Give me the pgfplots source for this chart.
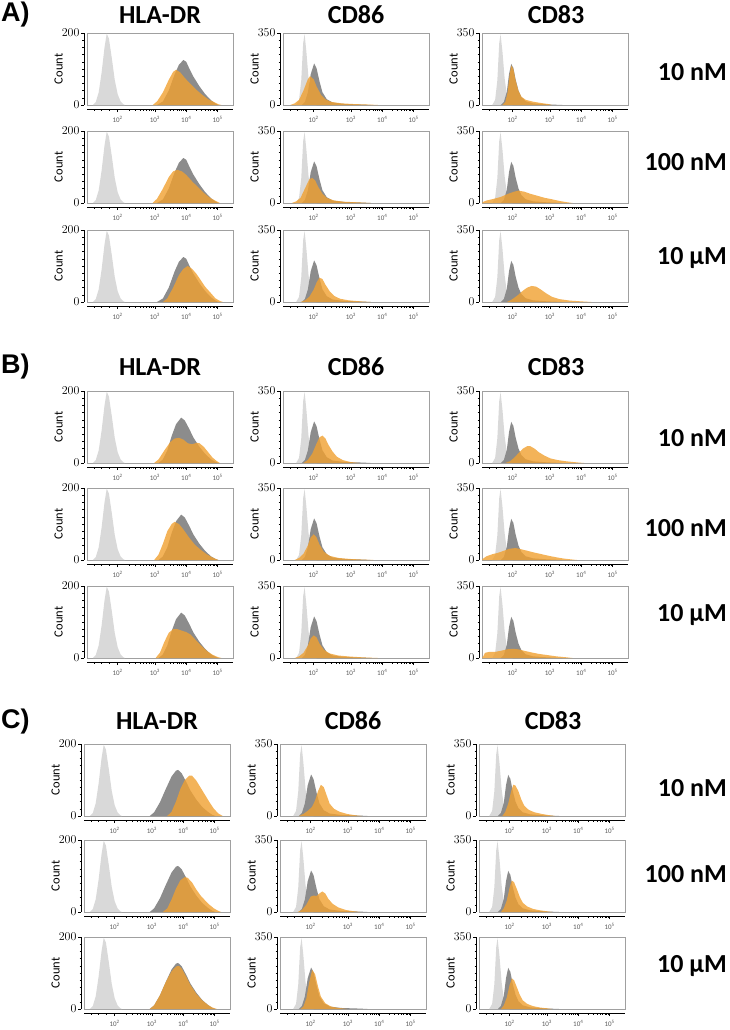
\documentclass[border=0pt]{standalone}
\usepackage{pgfplots}
\pgfplotsset{compat=1.18}
\usepackage{pgfplotstable}
\usepackage{fontspec}
\setmainfont{Carlito}
\newfontfamily\secf{Liberation Sans}
\definecolor{isoc}{HTML}{D9D9D9}
\definecolor{ctrlc}{HTML}{8C8C8C}
\definecolor{orc}{HTML}{F0A030}
\definecolor{boxc}{HTML}{A0A0A0}

% isotype controls (light grey)
\pgfplotstableread[row sep=\\]{x y\\0.04 0\\0.06 8\\0.08 35\\0.10 90\\0.12 160\\0.135 198\\0.15 185\\0.17 130\\0.19 70\\0.21 30\\0.23 10\\0.25 2\\0.26 0\\}\isoH
\pgfplotstableread[row sep=\\]{x y\\0.09 0\\0.11 25\\0.125 120\\0.138 300\\0.148 345\\0.16 260\\0.175 130\\0.19 50\\0.21 12\\0.23 0\\}\isoD
\pgfplotstableread[row sep=\\]{x y\\0.07 0\\0.09 25\\0.105 120\\0.118 300\\0.127 345\\0.14 260\\0.155 130\\0.17 50\\0.19 12\\0.21 0\\}\isoC
% untreated controls (dark grey)
\pgfplotstableread[row sep=\\]{x y\\0.48 0\\0.52 10\\0.56 40\\0.60 85\\0.63 112\\0.66 125\\0.68 120\\0.70 102\\0.73 78\\0.77 52\\0.81 30\\0.85 13\\0.88 4\\0.90 0\\}\ctrlAH
\pgfplotstableread[row sep=\\]{x y\\0.49 0\\0.52 10\\0.55 35\\0.58 75\\0.61 108\\0.645 126\\0.67 118\\0.70 95\\0.73 70\\0.77 45\\0.81 25\\0.85 10\\0.88 3\\0.90 0\\}\ctrlBH
\pgfplotstableread[row sep=\\]{x y\\0.45 0\\0.48 10\\0.52 38\\0.56 75\\0.60 110\\0.63 126\\0.645 128\\0.67 118\\0.70 95\\0.73 70\\0.77 45\\0.81 25\\0.85 11\\0.88 3\\0.90 0\\}\ctrlCH
\pgfplotstableread[row sep=\\]{x y\\0.13 0\\0.15 15\\0.17 60\\0.19 150\\0.213 202\\0.23 178\\0.25 115\\0.27 62\\0.30 28\\0.34 12\\0.42 5\\0.55 2\\0.60 0\\}\ctrlD
\pgfplotstableread[row sep=\\]{x y\\0.13 0\\0.15 15\\0.17 65\\0.185 150\\0.20 200\\0.215 180\\0.23 125\\0.25 70\\0.27 38\\0.30 18\\0.35 8\\0.45 3\\0.55 0\\}\ctrlC
% treated (orange), section A
\pgfplotstableread[row sep=\\]{x y\\0.45 0\\0.48 10\\0.52 35\\0.56 70\\0.59 92\\0.61 98\\0.64 90\\0.67 75\\0.71 58\\0.75 42\\0.79 28\\0.83 16\\0.87 8\\0.90 2\\0.92 0\\}\oAHa
\pgfplotstableread[row sep=\\]{x y\\0.45 0\\0.48 12\\0.52 40\\0.56 72\\0.59 88\\0.62 92\\0.65 88\\0.68 78\\0.72 60\\0.76 44\\0.80 28\\0.84 15\\0.88 6\\0.91 0\\}\oAHb
\pgfplotstableread[row sep=\\]{x y\\0.52 0\\0.55 10\\0.59 40\\0.63 75\\0.66 92\\0.69 100\\0.72 92\\0.75 78\\0.78 60\\0.81 42\\0.85 24\\0.88 10\\0.91 3\\0.93 0\\}\oAHc
\pgfplotstableread[row sep=\\]{x y\\0.05 0\\0.08 8\\0.11 25\\0.14 70\\0.17 125\\0.185 140\\0.21 125\\0.23 90\\0.26 50\\0.29 28\\0.33 15\\0.40 8\\0.50 4\\0.60 2\\0.65 0\\}\oADa
\pgfplotstableread[row sep=\\]{x y\\0.06 0\\0.09 8\\0.12 25\\0.15 70\\0.18 115\\0.20 122\\0.22 110\\0.24 80\\0.27 45\\0.30 25\\0.35 12\\0.42 6\\0.52 3\\0.60 0\\}\oADb
\pgfplotstableread[row sep=\\]{x y\\0.12 0\\0.15 8\\0.18 25\\0.21 60\\0.23 95\\0.25 118\\0.27 112\\0.29 85\\0.32 52\\0.35 30\\0.39 16\\0.45 8\\0.53 3\\0.60 0\\}\oADc
\pgfplotstableread[row sep=\\]{x y\\0.14 0\\0.16 15\\0.175 60\\0.19 150\\0.20 192\\0.215 175\\0.23 120\\0.25 68\\0.27 40\\0.30 25\\0.35 16\\0.40 10\\0.45 5\\0.48 0\\}\oACa
\pgfplotstableread[row sep=\\]{x y\\0.0 0\\0.01 6\\0.03 12\\0.08 20\\0.13 30\\0.18 45\\0.22 55\\0.25 60\\0.29 55\\0.33 45\\0.38 35\\0.43 25\\0.48 18\\0.53 10\\0.58 4\\0.62 0\\}\oACb
\pgfplotstableread[row sep=\\]{x y\\0.17 0\\0.20 10\\0.24 30\\0.28 55\\0.31 70\\0.34 78\\0.37 75\\0.40 62\\0.44 42\\0.48 25\\0.53 14\\0.60 7\\0.68 3\\0.75 0\\}\oACc
% section B
\pgfplotstableread[row sep=\\]{x y\\0.46 0\\0.49 10\\0.53 35\\0.57 58\\0.60 68\\0.63 70\\0.66 65\\0.69 55\\0.72 52\\0.75 56\\0.77 55\\0.80 45\\0.83 30\\0.86 15\\0.89 5\\0.91 0\\}\oBHa
\pgfplotstableread[row sep=\\]{x y\\0.46 0\\0.49 15\\0.52 45\\0.55 80\\0.58 100\\0.60 106\\0.63 100\\0.66 85\\0.70 62\\0.74 42\\0.78 28\\0.82 16\\0.86 7\\0.90 0\\}\oBHb
\pgfplotstableread[row sep=\\]{x y\\0.47 0\\0.50 15\\0.53 45\\0.56 70\\0.59 80\\0.62 80\\0.65 76\\0.68 72\\0.71 65\\0.74 52\\0.78 35\\0.82 20\\0.86 9\\0.90 2\\0.92 0\\}\oBHc
\pgfplotstableread[row sep=\\]{x y\\0.14 0\\0.17 15\\0.20 45\\0.23 95\\0.25 125\\0.27 133\\0.29 120\\0.31 90\\0.34 55\\0.37 30\\0.41 14\\0.46 5\\0.52 0\\}\oBDa
\pgfplotstableread[row sep=\\]{x y\\0.08 0\\0.11 10\\0.14 30\\0.17 70\\0.19 110\\0.21 125\\0.23 110\\0.25 75\\0.28 40\\0.32 20\\0.38 10\\0.46 5\\0.55 2\\0.62 0\\}\oBDb
\pgfplotstableread[row sep=\\]{x y\\0.08 0\\0.11 8\\0.14 25\\0.17 60\\0.19 95\\0.21 110\\0.23 100\\0.25 70\\0.28 40\\0.32 22\\0.38 12\\0.46 7\\0.55 3\\0.65 0\\}\oBDc
\pgfplotstableread[row sep=\\]{x y\\0.16 0\\0.19 8\\0.22 25\\0.25 48\\0.28 70\\0.31 82\\0.33 82\\0.36 70\\0.39 52\\0.43 35\\0.47 22\\0.52 14\\0.58 8\\0.65 3\\0.70 0\\}\oBCa
\pgfplotstableread[row sep=\\]{x y\\0.0 0\\0.01 8\\0.03 18\\0.07 28\\0.11 35\\0.15 45\\0.19 55\\0.23 58\\0.27 52\\0.31 45\\0.36 36\\0.41 28\\0.46 20\\0.51 13\\0.56 7\\0.61 3\\0.65 0\\}\oBCb
\pgfplotstableread[row sep=\\]{x y\\0.0 0\\0.01 10\\0.02 25\\0.05 30\\0.09 30\\0.13 35\\0.17 42\\0.21 45\\0.25 42\\0.29 35\\0.34 27\\0.39 20\\0.45 14\\0.51 8\\0.57 4\\0.62 0\\}\oBCc
% section C
\pgfplotstableread[row sep=\\]{x y\\0.57 0\\0.60 12\\0.63 40\\0.66 75\\0.69 100\\0.72 112\\0.74 112\\0.77 98\\0.80 78\\0.83 58\\0.86 38\\0.89 20\\0.92 7\\0.95 0\\}\oCHa
\pgfplotstableread[row sep=\\]{x y\\0.54 0\\0.57 10\\0.60 35\\0.63 65\\0.66 88\\0.69 97\\0.71 95\\0.74 82\\0.77 62\\0.80 45\\0.83 32\\0.86 20\\0.89 10\\0.92 3\\0.94 0\\}\oCHb
\pgfplotstableread[row sep=\\]{x y\\0.45 0\\0.48 10\\0.52 38\\0.56 75\\0.60 105\\0.63 118\\0.65 120\\0.67 112\\0.70 90\\0.73 66\\0.77 42\\0.81 24\\0.85 11\\0.88 4\\0.91 0\\}\oCHc
\pgfplotstableread[row sep=\\]{x y\\0.13 0\\0.16 10\\0.19 25\\0.22 45\\0.24 75\\0.26 120\\0.28 152\\0.30 140\\0.32 100\\0.34 60\\0.37 35\\0.41 20\\0.46 10\\0.52 3\\0.56 0\\}\oCDa
\pgfplotstableread[row sep=\\]{x y\\0.12 0\\0.15 10\\0.18 35\\0.21 75\\0.23 80\\0.25 78\\0.27 90\\0.29 100\\0.31 90\\0.33 65\\0.36 40\\0.40 22\\0.45 10\\0.50 4\\0.55 0\\}\oCDb
\pgfplotstableread[row sep=\\]{x y\\0.14 0\\0.16 12\\0.18 50\\0.20 130\\0.22 190\\0.24 170\\0.26 110\\0.28 60\\0.31 28\\0.35 12\\0.40 5\\0.46 0\\}\oCDc
\pgfplotstableread[row sep=\\]{x y\\0.16 0\\0.18 20\\0.20 60\\0.22 120\\0.235 152\\0.25 148\\0.27 120\\0.29 80\\0.31 50\\0.34 30\\0.38 18\\0.43 10\\0.48 4\\0.52 0\\}\oCCa
\pgfplotstableread[row sep=\\]{x y\\0.15 0\\0.17 18\\0.19 55\\0.21 120\\0.225 153\\0.24 145\\0.26 110\\0.28 72\\0.30 45\\0.33 27\\0.37 15\\0.42 8\\0.47 3\\0.50 0\\}\oCCb
\pgfplotstableread[row sep=\\]{x y\\0.15 0\\0.17 18\\0.19 55\\0.21 118\\0.225 149\\0.24 140\\0.26 105\\0.28 68\\0.30 42\\0.33 25\\0.37 14\\0.42 7\\0.47 3\\0.50 0\\}\oCCc

\pgfplotsset{
 panel/.style={scale only axis, width=146pt, height=72pt, anchor=north west,
  xmin=0, xmax=1, ymin=0,
  axis line style={boxc, line width=0.6pt},
  tick align=outside, xtick pos=left, ytick pos=left,
  xtick={0.21,0.465,0.68,0.895},
  xticklabels={10\textsuperscript{2},10\textsuperscript{3},10\textsuperscript{4},10\textsuperscript{5}},
  minor xtick={0.05,0.10,0.15,0.287,0.332,0.363,0.388,0.408,0.425,0.440,0.453,0.530,0.568,0.594,0.615,0.632,0.647,0.659,0.670,0.745,0.783,0.809,0.830,0.847,0.862,0.874,0.885},
  major tick length=3pt, minor tick length=1.5pt,
  xtick style={black, yshift=-4pt, line width=0.5pt},
  ytick style={black, xshift=-3pt, line width=0.4pt},
  minor y tick num=9,
  xticklabel style={font=\fontsize{7}{7}\selectfont, text=black!65, yshift=-5pt},
  yticklabel style={font=\fontsize{12}{12}\selectfont, xshift=-1pt},
  ylabel={Count},
  ylabel style={font=\fontsize{12.5}{12.5}\selectfont, at={(rel axis cs:-0.195,0.5)}, anchor=center},
  after end axis/.code={
   \draw[black, line width=0.9pt] ([yshift=-4pt]rel axis cs:0,0) -- ([yshift=-4pt]rel axis cs:1,0);
   \draw[black, line width=0.7pt] ([xshift=-3pt]rel axis cs:0,0) -- ([xshift=-3pt]rel axis cs:0,1);
  },
 },
 iso/.style={draw=none, fill=isoc},
 ctrl/.style={draw=none, fill=ctrlc},
 ora/.style={draw=none, fill=orc, fill opacity=0.8},
}

\newcommand{\panel}[6]{%
\begin{axis}[panel, at={(#1pt,-#2pt)}, ymax=#3, ytick={0,#3}]
\addplot[iso] table {#4} \closedcycle;
\addplot[ctrl] table {#5} \closedcycle;
\addplot[ora] table {#6} \closedcycle;
\end{axis}}

\newcommand{\tit}{\bfseries\fontsize{26}{28}\selectfont}
\newcommand{\sect}{\secf\bfseries\fontsize{27}{29}\selectfont}

\begin{document}
\begin{tikzpicture}
\useasboundingbox (0,0) rectangle (729pt,-1030pt);
% Section A
\panel{87}{33}{200}{\isoH}{\ctrlAH}{\oAHa}
\panel{87}{131}{200}{\isoH}{\ctrlAH}{\oAHb}
\panel{87}{230}{200}{\isoH}{\ctrlAH}{\oAHc}
\panel{283}{33}{350}{\isoD}{\ctrlD}{\oADa}
\panel{283}{131}{350}{\isoD}{\ctrlD}{\oADb}
\panel{283}{230}{350}{\isoD}{\ctrlD}{\oADc}
\panel{482}{33}{350}{\isoC}{\ctrlC}{\oACa}
\panel{482}{131}{350}{\isoC}{\ctrlC}{\oACb}
\panel{482}{230}{350}{\isoC}{\ctrlC}{\oACc}
% Section B
\panel{87}{391}{200}{\isoH}{\ctrlBH}{\oBHa}
\panel{87}{488}{200}{\isoH}{\ctrlBH}{\oBHb}
\panel{87}{586}{200}{\isoH}{\ctrlBH}{\oBHc}
\panel{283}{391}{350}{\isoD}{\ctrlD}{\oBDa}
\panel{283}{488}{350}{\isoD}{\ctrlD}{\oBDb}
\panel{283}{586}{350}{\isoD}{\ctrlD}{\oBDc}
\panel{482}{391}{350}{\isoC}{\ctrlC}{\oBCa}
\panel{482}{488}{350}{\isoC}{\ctrlC}{\oBCb}
\panel{482}{586}{350}{\isoC}{\ctrlC}{\oBCc}
% Section C
\panel{84}{744}{200}{\isoH}{\ctrlCH}{\oCHa}
\panel{84}{840}{200}{\isoH}{\ctrlCH}{\oCHb}
\panel{84}{937}{200}{\isoH}{\ctrlCH}{\oCHc}
\panel{280}{744}{350}{\isoD}{\ctrlD}{\oCDa}
\panel{280}{840}{350}{\isoD}{\ctrlD}{\oCDb}
\panel{280}{937}{350}{\isoD}{\ctrlD}{\oCDc}
\panel{479}{744}{350}{\isoC}{\ctrlC}{\oCCa}
\panel{479}{840}{350}{\isoC}{\ctrlC}{\oCCb}
\panel{479}{937}{350}{\isoC}{\ctrlC}{\oCCc}
% labels
\node[anchor=west, font=\sect, inner sep=0pt] at (1pt,-15pt) {A)};
\node[anchor=west, font=\sect, inner sep=0pt] at (1pt,-367pt) {B)};
\node[anchor=west, font=\sect, inner sep=0pt] at (1pt,-722pt) {C)};
\foreach \yy/\dx in {15/0,367/0,721/-3}{
 \node[font=\tit] at ({160pt+\dx pt},-\yy pt) {HLA-DR};
 \node[font=\tit] at ({356pt+\dx pt},-\yy pt) {CD86};
 \node[font=\tit] at ({556pt+\dx pt},-\yy pt) {CD83};
}
\foreach \yy/\tx in {72/10 nM,162/100 nM,258/10 µM,438/10 nM,528/100 nM,615/10 µM,788/10 nM,874/100 nM,966/10 µM}{
 \node[font=\tit, anchor=east, inner sep=0pt] at (727pt,-\yy pt) {\tx};
}
\end{tikzpicture}
\end{document}
